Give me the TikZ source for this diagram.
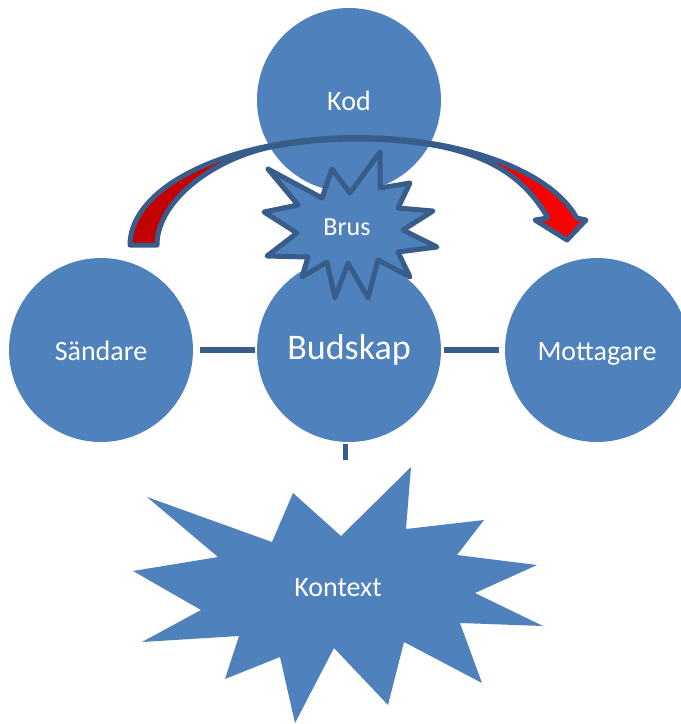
\documentclass[tikz,border=0pt]{standalone}
\usepackage{fontspec}
\setmainfont{Carlito}
\usepackage{tikz}
\usetikzlibrary{shapes, arrows.meta, positioning}

\definecolor{bubblefill}{HTML}{4F81BD}
\definecolor{edgeblue}{HTML}{385D8A}
\definecolor{darkred}{HTML}{C00000}

\begin{document}
\begin{tikzpicture}[x=1pt, y=-1pt,
    bubble/.style={circle, fill=bubblefill, minimum size=184pt, inner sep=0pt,
                   text=white, font=\fontsize{28}{32}\selectfont,
                   text height=20pt, text depth=0pt},
    linkline/.style={draw=edgeblue, line width=5.5pt},
    burst/.style={fill=bubblefill, draw=edgeblue, line width=5pt, line join=round}]
    \useasboundingbox (0,0) rectangle (681,724);

    % the four circles
    \node[bubble] (kod) at (349,100) {Kod};
    \node[bubble] (sandare) at (101,350) {Sändare};
    \node[bubble, font=\fontsize{36}{40}\selectfont, text height=25pt, text depth=7pt]
        (budskap) at (349,350) {Budskap};
    \node[bubble] (mottagare) at (597,350) {Mottagare};

    % links
    \draw[linkline, shorten <=7pt, shorten >=2pt] (sandare) -- (budskap);
    \draw[linkline, shorten <=3pt, shorten >=6pt] (budskap) -- (mottagare);
    \coordinate (ctxtip) at (345,460);
    \draw[linkline, line width=5pt] ([xshift=-4pt, yshift=-2pt]budskap.south) -- (ctxtip);

    % context burst
    \fill[bubblefill] (147,497) -- (218,557) -- (133,571) -- (201,610) -- (142,642)
        -- (239,636) -- (225,679) -- (280,657) -- (295,723) -- (334,648) -- (388,705)
        -- (404,642) -- (482,683) -- (460,623) -- (543,626) -- (475,593) -- (537,565)
        -- (457,555) -- (484,520) -- (406,529) -- (411,467) -- (341,536) -- (293,493)
        -- (272,542) -- cycle;
    \node[text=white, font=\fontsize{28}{32}\selectfont] (kontext) at (338,588) {Kontext};

    % curved arrow
    \path[draw=edgeblue, line width=5pt, line join=round, left color=darkred, right color=red]
        plot[domain=180:14.55, samples=60, smooth] ({357+227*cos(\x)}, {245-107.5*sin(\x)})
        -- (586,220) -- (567,240) -- (535,220) -- (548,218)
        .. controls (528,184) and (500,159) .. (440,146.3)
        -- plot[domain=68.55:110.37, samples=30, smooth] ({357+227*cos(\x)}, {245-106*sin(\x)})
        .. controls (216,156) and (157,200) .. (157,245) -- cycle;

    % noise burst
    \draw[burst] (268,169) -- (322,198) -- (332,169) -- (350,193) -- (380,152)
        -- (380,188) -- (410,183) -- (398,208) -- (433,211) -- (403,230) -- (437,247)
        -- (398,252) -- (410,277) -- (378,260) -- (368,298) -- (348,263) -- (335,298)
        -- (327,262) -- (302,277) -- (308,257) -- (267,256) -- (297,233) -- (264,212)
        -- (298,205) -- cycle;
    \node[text=white, font=\fontsize{26}{30}\selectfont] (brus) at (347,227) {Brus};
\end{tikzpicture}
\end{document}
